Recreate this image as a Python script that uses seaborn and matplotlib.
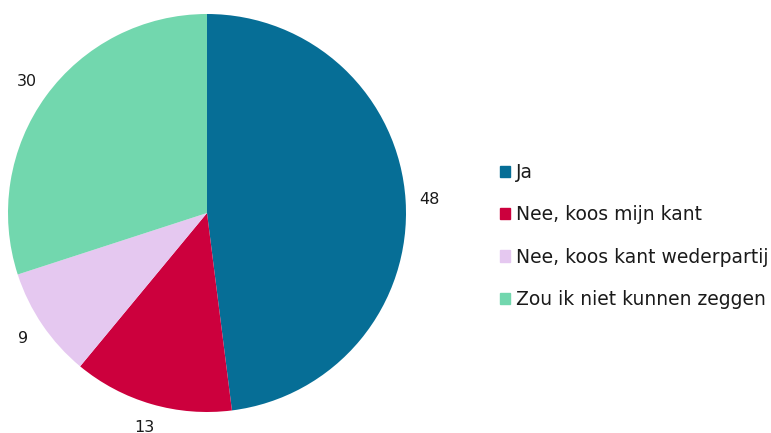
import matplotlib
matplotlib.use("Agg")
import matplotlib.pyplot as plt
import matplotlib.patches as mpatches
import seaborn as sns

# data
categorieen = ["Ja", "Nee, koos mijn kant", "Nee, koos kant wederpartij", "Zou ik niet kunnen zeggen"]
waarden = [48, 13, 9, 30]
kleuren = ["#066e96", "#cc003d", "#e5c8f0", "#72d7ae"]

sns.set_theme(style="white")
plt.rcParams["font.family"] = ["DejaVu Sans"]

fig = plt.figure(figsize=(7.71, 4.33), dpi=100)
ax = fig.add_axes([8 / 771, 21 / 433, 398 / 771, 398 / 433])

wedges, teksten = ax.pie(
    waarden,
    colors=kleuren,
    startangle=90,
    counterclock=False,
    labels=[str(w) for w in waarden],
    labeldistance=1.12,
    textprops={"fontsize": 11.5, "color": "#1a1a1a"},
    wedgeprops={"linewidth": 0},
)
for t in teksten:
    t.set_horizontalalignment("center")
    t.set_verticalalignment("center")
    t.set_clip_on(False)
ax.set_xlim(-1, 1)
ax.set_ylim(-1, 1)
ax.set_aspect("equal")

# legenda met vierkantjes
handles = [mpatches.Patch(color=k, label=c) for k, c in zip(kleuren, categorieen)]
fig.legend(
    handles=handles,
    loc="center left",
    bbox_to_anchor=(500 / 771, 1 - 236 / 433),
    frameon=False,
    fontsize=13.5,
    handlelength=0.55,
    handleheight=0.55,
    handletextpad=0.3,
    labelspacing=1.25,
    borderaxespad=0,
    borderpad=0,
    labelcolor="#1a1a1a",
)

fig.savefig("out.png", dpi=100)
